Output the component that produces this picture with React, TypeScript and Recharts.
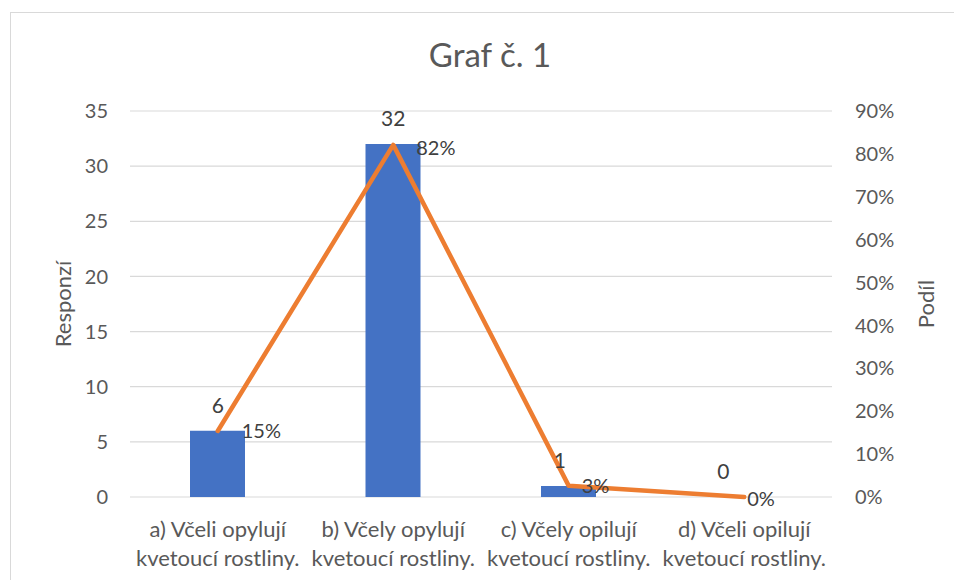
import React from 'react';
import {
  ComposedChart,
  Bar,
  Line,
  XAxis,
  YAxis,
  CartesianGrid,
  LabelList
} from 'recharts';

// data
const categories = [
  'a) Včeli opylují\nkvetoucí rostliny.',
  'b) Včely opylují\nkvetoucí rostliny.',
  'c) Včely opilují\nkvetoucí rostliny.',
  'd) Včeli opilují\nkvetoucí rostliny.'
];
const responses = [6, 32, 1, 0];
const shares = [0.154, 0.821, 0.026, 0];

const leftTicks = [0, 5, 10, 15, 20, 25, 30, 35];
const rightTicks = [0, 0.1, 0.2, 0.3, 0.4, 0.5, 0.6, 0.7, 0.8, 0.9];

// label nudges (Excel moves some labels around to avoid overlaps)
const barLabelShift = [
  { dx: 0, dy: -25 },
  { dx: 0, dy: -25 },
  { dx: -9, dy: -25 },
  { dx: -21, dy: -25 }
];
const lineLabelShift = [
  { dx: 24, dy: 0 },
  { dx: 23, dy: 3 },
  { dx: 13, dy: 0 },
  { dx: 3, dy: 2 }
];

const FONT = 'Lato, "Open Sans", sans-serif';
const AXIS_TEXT = '#595959';
const LABEL_TEXT = '#404040';

const chartData = categories.map((name, i) => ({
  name,
  responses: responses[i],
  share: shares[i]
}));

const pct = (v: number) => `${Math.round(v * 100)}%`;

const CategoryTick = (props: any) => {
  const { x, y, payload } = props;
  const lines = String(payload.value).split('\n');
  return (
    <text x={x} y={y} textAnchor="middle" fill={AXIS_TEXT} fontSize={22} fontFamily={FONT}>
      <tspan x={x} dy={40}>{lines[0]}</tspan>
      <tspan x={x} dy={29}>{lines[1]}</tspan>
    </text>
  );
};

const BarValueLabel = (props: any) => {
  const { x, y, value, index } = props;
  const s = barLabelShift[index] || { dx: 0, dy: -25 };
  return (
    <text
      x={x + s.dx}
      y={y + s.dy}
      dy="0.35em"
      textAnchor="middle"
      fill={LABEL_TEXT}
      fontSize={21}
      fontFamily={FONT}
    >
      {value}
    </text>
  );
};

const ShareLabel = (props: any) => {
  const { x, y, value, index } = props;
  const s = lineLabelShift[index] || { dx: 20, dy: 0 };
  return (
    <text
      x={x + s.dx}
      y={y + s.dy}
      dy="0.35em"
      textAnchor="start"
      fill={LABEL_TEXT}
      fontSize={20}
      fontFamily={FONT}
    >
      {pct(value)}
    </text>
  );
};

const axisTitle: React.CSSProperties = {
  position: 'absolute',
  top: 304,
  transform: 'translate(-50%, -50%) rotate(-90deg)',
  fontSize: 22,
  color: AXIS_TEXT,
  whiteSpace: 'nowrap'
};

export default function App() {
  return (
    <div
      style={{
        position: 'fixed',
        left: 0,
        top: 0,
        width: 954,
        height: 580,
        background: '#fff',
        overflow: 'hidden',
        fontFamily: FONT
      }}
    >
      <div
        style={{
          position: 'absolute',
          left: 10,
          top: 12,
          width: 1000,
          height: 1000,
          border: '1px solid #d9d9d9'
        }}
      />
      <div
        style={{
          position: 'absolute',
          left: 0,
          width: 980,
          top: 34,
          textAlign: 'center',
          fontSize: 33,
          color: AXIS_TEXT
        }}
      >
        Graf č. 1
      </div>
      <div style={{ ...axisTitle, left: 62 }}>Responzí</div>
      <div style={{ ...axisTitle, left: 925 }}>Podíl</div>
      <div style={{ position: 'absolute', left: 0, top: 0 }}>
        <ComposedChart
          width={954}
          height={580}
          data={chartData}
          margin={{ top: 111, right: 42, bottom: 13, left: 60 }}
        >
          <CartesianGrid vertical={false} stroke="#d9d9d9" strokeWidth={1.2} yAxisId="left" />
          <XAxis
            dataKey="name"
            axisLine={false}
            tickLine={false}
            tickSize={0}
            tickMargin={0}
            height={70}
            interval={0}
            tick={<CategoryTick />}
          />
          <YAxis
            yAxisId="left"
            domain={[0, 35]}
            ticks={leftTicks}
            width={70}
            axisLine={false}
            tickLine={false}
            tickSize={0}
            tickMargin={22}
            tick={{ fill: AXIS_TEXT, fontSize: 20, fontFamily: FONT }}
          />
          <YAxis
            yAxisId="right"
            orientation="right"
            domain={[0, 0.9]}
            ticks={rightTicks}
            width={80}
            axisLine={false}
            tickLine={false}
            tickSize={0}
            tickMargin={23}
            tickFormatter={pct}
            tick={{ fill: AXIS_TEXT, fontSize: 20, fontFamily: FONT, textAnchor: 'start' }}
          />
          <Bar
            yAxisId="left"
            dataKey="responses"
            fill="#4472C4"
            barSize={55}
            isAnimationActive={false}
          />
          {/* invisible carrier so every bar value (including 0) gets its label */}
          <Line
            yAxisId="left"
            dataKey="responses"
            stroke="none"
            dot={false}
            activeDot={false}
            legendType="none"
            isAnimationActive={false}
          >
            <LabelList dataKey="responses" content={<BarValueLabel />} />
          </Line>
          <Line
            yAxisId="right"
            dataKey="share"
            type="linear"
            stroke="#ED7D31"
            strokeWidth={4.5}
            strokeLinecap="round"
            strokeLinejoin="round"
            dot={false}
            activeDot={false}
            isAnimationActive={false}
          >
            <LabelList dataKey="share" content={<ShareLabel />} />
          </Line>
        </ComposedChart>
      </div>
    </div>
  );
}
